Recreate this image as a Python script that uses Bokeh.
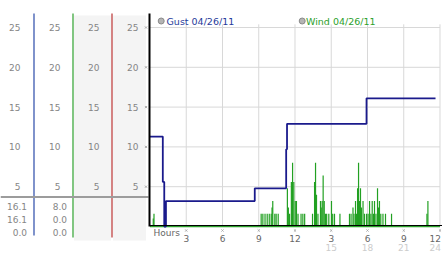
from bokeh.plotting import figure
from bokeh.models import Range1d
from bokeh.embed import file_html
from bokeh.resources import INLINE
from bokeh.core.properties import value

# ---------------- data ----------------
gust_hours = [0.0, 1.06, 1.18, 1.32, 8.67, 11.27, 11.34, 17.92, 23.63]
gust_kmh = [11.3, 5.6, 0.0, 3.2, 4.8, 9.7, 12.9, 16.1, 16.1]

wind_hours = [0.27, 0.33,
              9.20, 9.34, 9.52, 9.70, 9.87, 10.03, 10.10, 10.16, 10.33, 10.44, 10.61,
              11.37, 11.45, 11.55, 11.70, 11.80, 11.90, 12.02, 12.12, 12.25, 12.50, 12.65, 12.80,
              13.45, 13.62, 13.70, 13.78, 13.90, 14.11, 14.17, 14.25, 14.33, 14.42, 14.52, 14.62,
              14.80, 15.02, 15.12, 15.27, 15.72, 16.51,
              16.64, 16.80, 16.88, 17.01, 17.10, 17.18, 17.26, 17.34, 17.42, 17.50, 17.63, 17.75,
              17.92, 18.05, 18.17, 18.28, 18.39, 18.50, 18.58, 18.70, 18.83, 18.91, 18.99, 19.10,
              19.28, 19.49, 19.99,
              22.92, 23.00]
wind_kmh = [1.0, 1.6,
            1.6, 1.6, 1.6, 1.6, 1.6, 1.6, 2.4, 3.2, 1.6, 1.6, 1.6,
            4.8, 2.4, 1.6, 5.6, 8.0, 5.6, 3.2, 3.2, 1.6, 1.6, 1.6, 1.6,
            1.6, 5.6, 8.0, 4.0, 1.6, 3.2, 2.4, 3.2, 6.4, 3.2, 1.6, 1.6,
            1.6, 3.2, 1.6, 1.6, 1.6, 1.6,
            1.6, 2.4, 1.6, 3.2, 1.6, 4.8, 8.0, 3.2, 4.8, 2.4, 3.2, 1.6,
            1.6, 1.6, 3.2, 1.6, 3.2, 1.6, 3.2, 1.6, 4.8, 2.4, 3.2, 1.6,
            1.6, 1.6, 1.6,
            1.6, 3.2]

y_ticks = [5, 10, 15, 20, 25]
x_ticks = [3, 6, 9, 12, 15, 18, 21, 24]
x_labels_12h = ["3", "6", "9", "12", "3", "6", "9", "12"]
x_labels_24h = ["", "", "", "", "15", "18", "21", "24"]
gust_stats = ["16.1", "16.1", "0.0"]
wind_stats = ["8.0", "0.0", "0.0"]
series_names = ["Gust 04/26/11", "Wind 04/26/11"]

# ---------------- figure ----------------
W, H = 442, 253
Y0_PX, PX_PER_UNIT = 226.0, 7.96       # value 0 at 226 px from top
X0_PX, PX_PER_HOUR = 149.5, 12.083     # hour 0 at 149.5 px

p = figure(width=W, height=H, output_backend="svg", toolbar_location=None,
           x_axis_type=None, y_axis_type=None, min_border=0,
           x_range=Range1d(0, W),
           y_range=Range1d((Y0_PX - H) / PX_PER_UNIT, Y0_PX / PX_PER_UNIT))
p.extra_x_ranges = {"hours": Range1d(-X0_PX / PX_PER_HOUR, (W - X0_PX) / PX_PER_HOUR)}
p.extra_y_ranges = {"py": Range1d(H, 0)}
p.outline_line_color = None
p.background_fill_color = "white"
p.border_fill_color = "white"

FONT = value("DejaVu Sans")

# ---- left panel ----
p.quad(left=[73.5, 112.5], right=[110.5, 145.5], top=[15, 15], bottom=[240, 240],
       y_range_name="py", fill_color="#f4f4f4", line_color=None)
p.segment(x0=[33.5, 72.5, 111.5], x1=[33.5, 72.5, 111.5], y0=[13, 13, 13], y1=[235, 237, 237],
          y_range_name="py", line_color=["#2a4aa8", "#2ea02e", "#b83030"], line_width=1.2)
p.segment(x0=[0], x1=[148], y0=[196.5], y1=[196.5], y_range_name="py",
          line_color="#9c9c9c", line_width=2)

col_right = [20, 60, 99, 138]
for cx in col_right:
    p.text(x=[cx] * len(y_ticks), y=y_ticks, text=[str(t) for t in y_ticks],
           text_align="right", text_baseline="middle", text_font=FONT,
           text_font_size="9px", text_color="#858585")

stat_rows = [206, 219, 232]
p.text(x=[26.5] * 3, y=stat_rows, text=gust_stats, y_range_name="py",
       text_align="right", text_baseline="middle", text_font=FONT,
       text_font_size="9px", text_color="#858585")
p.text(x=[66.5] * 3, y=stat_rows, text=wind_stats, y_range_name="py",
       text_align="right", text_baseline="middle", text_font=FONT,
       text_font_size="9px", text_color="#858585")

# ---- main plot grid ----
p.segment(x0=x_ticks, x1=x_ticks, y0=[0] * len(x_ticks), y1=[25.4] * len(x_ticks),
          x_range_name="hours", line_color="#d8d8d8", line_width=1)
p.segment(x0=[0] * len(y_ticks), x1=[x_ticks[-1]] * len(y_ticks), y0=y_ticks, y1=y_ticks,
          x_range_name="hours", line_color="#d8d8d8", line_width=1)

# tick marks
p.scatter(x=[145.5] * len(y_ticks), y=y_ticks, marker="x", size=3,
          line_color="#aaaaaa", line_width=1)
p.scatter(x=x_ticks, y=[230] * len(x_ticks), y_range_name="py", x_range_name="hours",
          marker="x", size=3, line_color="#aaaaaa", line_width=1)

# ---- series ----
p.segment(x0=[0], x1=[x_ticks[-1]], y0=[0], y1=[0], x_range_name="hours",
          line_color="#2ca02c", line_width=1.5)
p.segment(x0=wind_hours, x1=wind_hours, y0=[0] * len(wind_hours), y1=wind_kmh,
          x_range_name="hours", line_color="#22a022", line_width=1.2)
p.step(x=gust_hours, y=gust_kmh, mode="after", x_range_name="hours",
       line_color="#1a1a8c", line_width=1.8)

# axes lines
p.segment(x0=[149], x1=[149], y0=[13], y1=[226], y_range_name="py",
          line_color="black", line_width=2)
p.segment(x0=[149], x1=[W], y0=[225], y1=[225], y_range_name="py",
          line_color="black", line_width=1)

# x labels (the last one is kept inside the right edge)
aligns = ["center"] * (len(x_ticks) - 1) + ["right"]
offsets = [0] * (len(x_ticks) - 1) + [1]
p.text(x=x_ticks, y=[237.5] * len(x_ticks), text=x_labels_12h, x_range_name="hours",
       y_range_name="py", text_align=aligns, x_offset=offsets, text_baseline="middle",
       text_font=FONT, text_font_size="9px", text_color="#666666")
p.text(x=x_ticks, y=[246.5] * len(x_ticks), text=x_labels_24h, x_range_name="hours",
       y_range_name="py", text_align=aligns, x_offset=offsets, text_baseline="middle",
       text_font=FONT, text_font_size="9px", text_color="#cccccc")
p.text(x=[153], y=[232], text=["Hours"], y_range_name="py", text_align="left",
       text_baseline="middle", text_font=FONT, text_font_size="9px", text_color="#666666")

# legend
p.scatter(x=[160.7, 301.7], y=[20.5, 20.5], y_range_name="py", marker="circle", size=6,
          fill_color="#b4b4b4", line_color="#8a8a8a", line_width=1)
p.text(x=[166, 305.5], y=[20.5, 20.5], text=series_names, y_range_name="py",
       text_align="left", text_baseline="middle", text_font=FONT, text_font_size="9.5px",
       text_color=["#1f3a9a", "#2ca02c"])

open("out.html", "w").write(file_html(p, INLINE))
